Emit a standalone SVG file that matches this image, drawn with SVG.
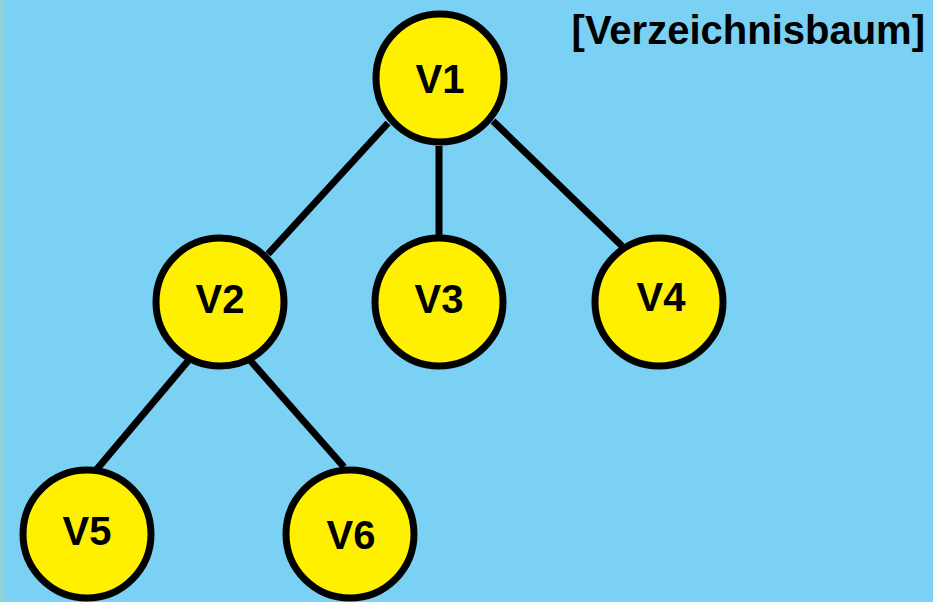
<svg xmlns="http://www.w3.org/2000/svg" width="933" height="602" viewBox="0 0 933 602">
  <style>
    .edge { stroke: #000; stroke-width: 7; stroke-linecap: butt; fill: none; }
    .node circle { fill: #FFF000; stroke: #000; stroke-width: 7; }
    .node text { font-family: "Liberation Sans", Arial, sans-serif; font-weight: bold; font-size: 40px; fill: #000; text-anchor: middle; }
    .title { font-family: "Liberation Sans", Arial, sans-serif; font-weight: bold; font-size: 40px; fill: #000; text-anchor: end; }
  </style>
  <rect x="0" y="0" width="933" height="602" fill="#7AD1F3"/>
  <rect x="0" y="0" width="5" height="602" fill="#8ED3DB"/>

  <text class="title" x="925" y="44">[Verzeichnisbaum]</text>

  <g id="edges">
    <line class="edge" x1="388" y1="123" x2="268" y2="254"/>
    <line class="edge" x1="439" y1="146" x2="439" y2="236"/>
    <line class="edge" x1="493" y1="121" x2="622" y2="246"/>
    <line class="edge" x1="188" y1="361" x2="97" y2="469"/>
    <line class="edge" x1="249" y1="359" x2="344" y2="467"/>
  </g>

  <g id="V1" class="node"><circle cx="440" cy="78" r="64"/><text x="440" y="93">V1</text></g>
  <g id="V2" class="node"><circle cx="220" cy="302" r="64"/><text x="220" y="313">V2</text></g>
  <g id="V3" class="node"><circle cx="439" cy="302" r="64"/><text x="439" y="313">V3</text></g>
  <g id="V4" class="node"><circle cx="659" cy="302" r="64"/><text x="661" y="311">V4</text></g>
  <g id="V5" class="node"><circle cx="87" cy="534" r="64"/><text x="87" y="545">V5</text></g>
  <g id="V6" class="node"><circle cx="350" cy="534" r="64"/><text x="351" y="549">V6</text></g>
</svg>
